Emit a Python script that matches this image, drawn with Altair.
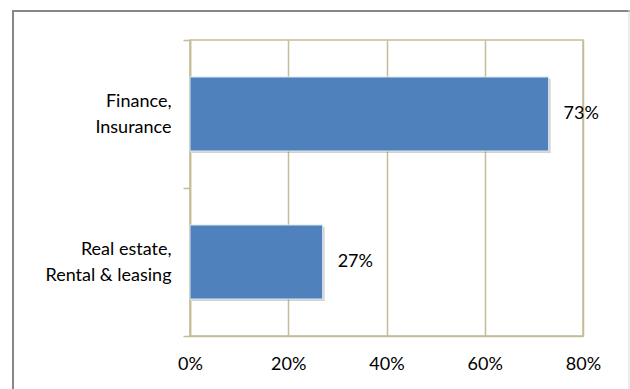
import altair as alt
import pandas as pd

categories = ["Finance,\nInsurance", "Real estate,\nRental & leasing"]
shares = [0.73, 0.27]
tick_values = [0, 0.2, 0.4, 0.6, 0.8]

df = pd.DataFrame({"cat": categories, "share": shares})

FONT = "Lato"
TAN = "#c4bd97"
BLUE = "#4f81bd"
FS = 18

base = alt.Chart(df)

y_enc = alt.Y(
    "cat:N",
    sort=categories,
    title=None,
    scale=alt.Scale(paddingInner=0, paddingOuter=0),
    axis=alt.Axis(
        labelExpr="split(datum.label, '\\n')",
        labelAlign="right",
        labelBaseline="middle",
        labelLineHeight=26,
        labelOffset=-13,
        labelFontSize=FS,
        labelFont=FONT,
        labelColor="#000000",
        labelPadding=12,
        tickSize=7,
        tickColor=TAN,
        tickWidth=1.5,
        tickBand="extent",
        domainColor=TAN,
        domainWidth=1.5,
        grid=False,
    ),
)

x_enc = alt.X(
    "share:Q",
    title=None,
    scale=alt.Scale(domain=[0, 0.8], nice=False),
    axis=alt.Axis(
        values=tick_values,
        format=".0%",
        labelFontSize=FS,
        labelFont=FONT,
        labelColor="#000000",
        labelPadding=19,
        labelFlush=False,
        tickSize=0,
        grid=True,
        gridColor=TAN,
        gridWidth=1.5,
        domainColor=TAN,
        domainWidth=1.5,
    ),
)

shadow = base.mark_bar(
    color="#7f7f7f", opacity=0.35, height=alt.RelativeBandSize(0.5),
    xOffset=2, x2Offset=3, yOffset=2, y2Offset=3
).encode(x=x_enc, y=y_enc)

bars = base.mark_bar(
    color=BLUE, stroke="#dbe5f1", strokeWidth=1, height=alt.RelativeBandSize(0.5)
).encode(x=x_enc, y=y_enc)

labels = base.mark_text(
    align="left", baseline="middle", dx=15, fontSize=FS, font=FONT, color="#000000"
).encode(x="share:Q", y=alt.Y("cat:N", sort=categories), text=alt.Text("share:Q", format=".0%"))

frame_data = alt.Data(values=[{}])
left_border = alt.Chart(frame_data).mark_rule(color="#878787", strokeWidth=2).encode(
    x=alt.value(-177), y=alt.value(-30), y2=alt.value(400)
)
top_border = alt.Chart(frame_data).mark_rule(color="#878787", strokeWidth=2).encode(
    x=alt.value(-178), x2=alt.value(440), y=alt.value(-29)
)
right_border = alt.Chart(frame_data).mark_rule(color="#d9d9d9", strokeWidth=1).encode(
    x=alt.value(439), y=alt.value(-30), y2=alt.value(400)
)

chart = (
    alt.layer(shadow, bars, labels, left_border, top_border, right_border)
    .properties(
        width=393,
        height=296,
        autosize=alt.AutoSizeParams(type="none"),
        padding={"left": 190, "top": 40, "right": 47, "bottom": 53},
        background="#ffffff",
    )
    .configure_view(stroke=TAN, strokeWidth=1.5)
)

chart.save("out.html", embed_options={"renderer": "svg", "actions": False})
